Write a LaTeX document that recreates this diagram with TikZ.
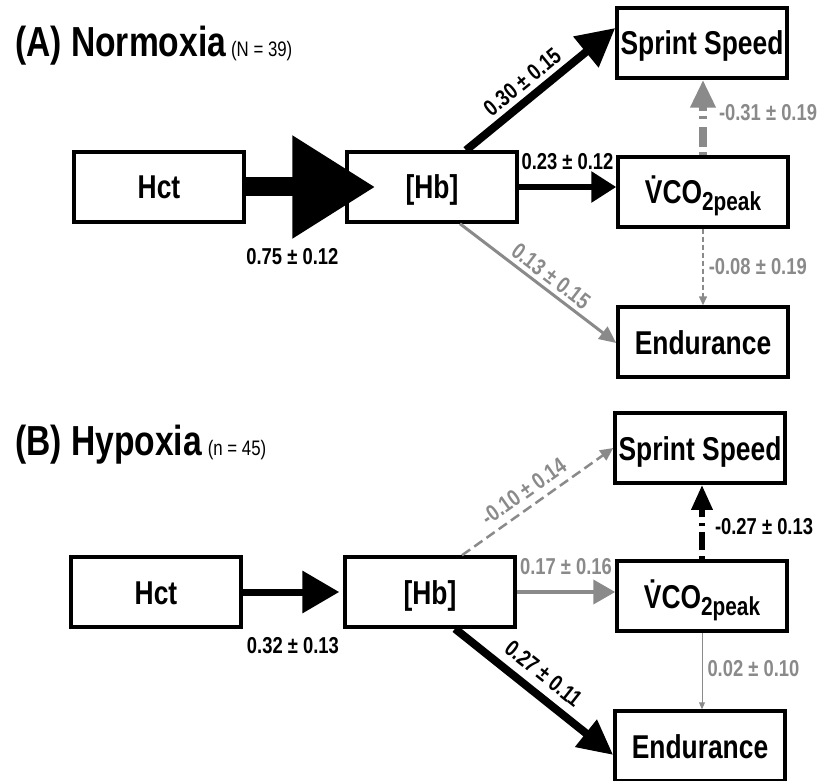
\documentclass[tikz,border=0pt]{standalone}
\usepackage{fontspec}
\setmainfont{Liberation Sans}[FakeStretch=0.8]
\usepackage{tikz}
\usetikzlibrary{arrows.meta,positioning}
\definecolor{effgray}{HTML}{8A8A8A}
\tikzstyle{box} = [draw, line width=3.5pt, minimum width=170pt, minimum height=70pt, inner sep=0pt, text height=24pt, text depth=0pt, font=\fontsize{33}{33}\selectfont\bfseries]
\tikzstyle{lbl} = [inner sep=0pt, font=\fontsize{23}{23}\selectfont\bfseries]
\tikzstyle{title} = [anchor=base west, inner sep=0pt, font=\fontsize{42}{42}\selectfont\bfseries]
\tikzset{effect/.style n args={3}{line width=#1, -{Triangle[length=#2,width=#3]}}}
\newcommand{\vcopeak}{\.{V}CO\raisebox{-7pt}{\fontsize{26}{26}\selectfont 2peak}}

\begin{document}
\begin{tikzpicture}[x=1pt,y=-1pt]
\useasboundingbox (0,0) rectangle (817,781);

% (A) normoxia
\node[title] (titleA) at (15,57) {(A) Normoxia\hspace{5pt}{\fontsize{21}{21}\mdseries (N = 39)}};
\node[box] (hctA) at (159,187) {Hct};
\node[box] (hbA) at (432,187) {[Hb]};
\node[box] (spA) at (702,43) {Sprint Speed};
\node[box] (vcA) at (703,192) {\vcopeak};
\node[box] (endA) at (703,342) {Endurance};

\draw[effect={19pt}{83pt}{98pt}] (hctA.east) -- ([xshift=30pt]hbA.west)
    node[lbl, below=52pt, pos=0.36] (cA1) {0.75 ± 0.12};
\draw[effect={8pt}{38pt}{38pt}] ([xshift=34pt]hbA.north) -- ([yshift=15pt]spA.west)
    node[lbl, sloped, above=5pt, pos=0.45] (cA2) {0.30 ± 0.15};
\draw[effect={6pt}{25pt}{30pt}] (hbA.east) -- (hbA.east -| vcA.west)
    node[lbl, above=14pt, midway] (cA3) {0.23 ± 0.12};
\draw[effect={8pt}{28pt}{24pt}, effgray, dash pattern=on 3pt off 5pt on 20pt off 8pt] (vcA.north) -- (vcA.north |- spA.south)
    node[lbl, right=12pt, pos=0.56] (cA4) {-0.31 ± 0.19};
\draw[effect={3pt}{17pt}{15pt}, effgray] ([xshift=28pt]hbA.south) -- ([yshift=-1pt]endA.west)
    node[lbl, sloped, above=4pt, pos=0.53] (cA5) {0.13 ± 0.15};
\draw[effect={1.5pt}{9pt}{8pt}, effgray, dash pattern=on 5pt off 3pt] (vcA.south) -- (endA.north)
    node[lbl, right=5pt, pos=0.5] (cA6) {-0.08 ± 0.19};

% (B) hypoxia
\node[title] (titleB) at (15,455) {(B) Hypoxia\hspace{6pt}{\fontsize{21}{21}\mdseries (n = 45)}};
\node[box] (hctB) at (156,592) {Hct};
\node[box] (hbB) at (430,592) {[Hb]};
\node[box] (spB) at (700,448) {Sprint Speed};
\node[box] (vcB) at (702,596) {\vcopeak};
\node[box] (endB) at (700,746) {Endurance};

\draw[effect={7pt}{37pt}{41pt}] (hctB.east) -- ([xshift=-4pt]hbB.west)
    node[lbl, below=42pt, pos=0.52] (cB1) {0.32 ± 0.13};
\draw[effect={2.5pt}{13pt}{12pt}, effgray, dash pattern=on 10pt off 5pt] ([xshift=32pt]hbB.north) -- (spB.west)
    node[lbl, sloped, above=7pt, pos=0.47] (cB2) {-0.10 ± 0.14};
\draw[effect={4pt}{22pt}{24pt}, effgray] (hbB.east) -- (hbB.east -| vcB.west)
    node[lbl, above=15pt, midway] (cB3) {0.17 ± 0.16};
\draw[effect={6pt}{25pt}{20pt}, dash pattern=on 3pt off 6pt on 18pt off 6pt] (vcB.north) -- (vcB.north |- spB.south)
    node[lbl, right=10pt, pos=0.44] (cB4) {-0.27 ± 0.13};
\draw[effect={8pt}{35pt}{33pt}] ([xshift=25pt]hbB.south) -- ([yshift=-9pt]endB.west)
    node[lbl, sloped, above=8pt, pos=0.48] (cB5) {0.27 ± 0.11};
\draw[effect={1pt}{7pt}{6pt}, effgray] (vcB.south) -- (vcB.south |- endB.north)
    node[lbl, right=5pt, pos=0.47] (cB6) {0.02 ± 0.10};
\end{tikzpicture}
\end{document}
